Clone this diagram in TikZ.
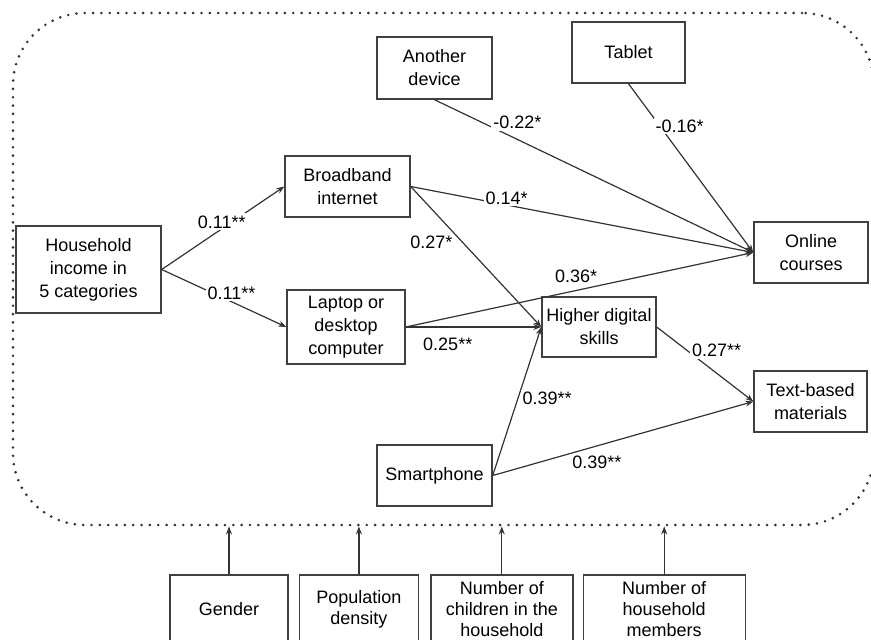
\documentclass[tikz,border=0pt]{standalone}
\usepackage{fontspec}
\setmainfont{Liberation Sans}
\usepackage{tikz}
\usetikzlibrary{positioning, arrows.meta}

\begin{document}
\begin{tikzpicture}[x=0.5pt, y=-0.5pt, node distance=5pt, font=\fontsize{9}{11.5}\selectfont,
    box/.style={draw=black!75, line width=0.7pt, rectangle, align=center, inner sep=2pt},
    control/.style={box, minimum height=34pt, font=\fontsize{9}{10.5}\selectfont},
    lbl/.style={fill=white, inner sep=1pt},
    link/.style={draw=black!80, line width=0.6pt, -{Stealth[length=4pt, width=3pt]}}]
    \useasboundingbox (0,0) rectangle (871,639);

    % Define the dotted frame
    \node[draw=black!80, line width=1.45pt, line cap=round, dash pattern=on 0pt off 4.17pt, rounded corners=36pt, minimum width=430.5pt, minimum height=256pt] (frame) at (443.5,269) {};

    % Define the variables
    \node[box, minimum width=72.5pt, minimum height=43.5pt] (income) at (88.5,269.5) {Household\\income in\\5 categories};
    \node[box, minimum width=62.5pt, minimum height=30.5pt] (broadband) at (347.5,186.5) {Broadband\\internet};
    \node[box, minimum width=59pt, minimum height=37pt] (laptop) at (346,327) {Laptop or\\desktop\\computer};
    \node[box, minimum width=57.5pt, minimum height=31pt] (another) at (434.5,68) {Another\\device};
    \node[box, minimum width=56.5pt, minimum height=30.5pt] (tablet) at (628.5,52.5) {Tablet};
    \node[box, minimum width=57.5pt, minimum height=30.5pt] (smartphone) at (434.5,475.5) {Smartphone};
    \node[box, minimum width=57pt, minimum height=30pt] (skills) at (599,327) {Higher digital\\skills};
    \node[box, minimum width=57pt, minimum height=30.5pt] (online) at (811,252.5) {Online\\courses};
    \node[box, minimum width=56.5pt, minimum height=30.5pt] (textbased) at (810.5,401.5) {Text-based\\materials};

    % Define the controls
    \node[control, minimum width=59pt] (gender) at (229,609) {Gender};
    \node[control, minimum width=59.5pt, right=5pt of gender] (density) {Population\\density};
    \node[control, minimum width=71pt, right=5.5pt of density] (children) {Number of\\children in the\\household};
    \node[control, minimum width=81pt, right=4.5pt of children] (members) {Number of\\household\\members};

    % Define the paths
    \draw[link] (income.east) -- node[lbl, pos=0.49, yshift=3.5pt] {0.11**} (broadband.west);
    \draw[link] (income.east) -- node[lbl, pos=0.56, yshift=4.3pt] {0.11**} (laptop.west);
    \draw[link] (broadband.east) -- node[lbl, pos=0.28, yshift=3.5pt] {0.14*} (online.west);
    \draw[link] (broadband.east) -- node[lbl, pos=0.4, left=4pt] {0.27*} (skills.west);
    \draw[link] (laptop.east) -- node[lbl, pos=0.49, above=2.5pt] {0.36*} (online.west);
    \draw[link] (laptop.east) -- node[lbl, pos=0.31, below=4pt] {0.25**} (skills.west);
    \draw[link] (another.south) -- node[lbl, pos=0.26, yshift=8.5pt] {-0.22*} (online.west);
    \draw[link] (tablet.south) -- node[lbl, pos=0.25, xshift=10pt] {-0.16*} (online.west);
    \draw[link] (skills.east) -- node[lbl, pos=0.62, yshift=11.5pt] {0.27**} (textbased.west);
    \draw[link] (smartphone.east) -- node[lbl, pos=0.52, right=1pt] {0.39**} (skills.west);
    \draw[link] (smartphone.east) -- node[lbl, pos=0.4, below=3.5pt] {0.39**} (textbased.west);

    % Controls point at the frame
    \draw[link] (gender.north) -- (gender.north |- frame.south);
    \draw[link] (density.north) -- (density.north |- frame.south);
    \draw[link] (children.north) -- (children.north |- frame.south);
    \draw[link] (members.north) -- (members.north |- frame.south);

\end{tikzpicture}
\end{document}
